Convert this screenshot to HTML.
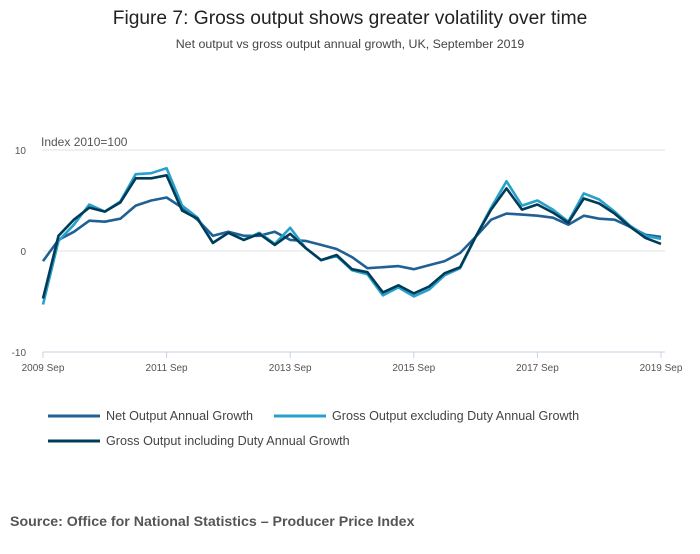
<!DOCTYPE html>
<html><head><meta charset="utf-8">
<style>
body{margin:0;background:#fff;font-family:"Liberation Sans",sans-serif;}
svg text{font-family:"Liberation Sans",sans-serif;}
</style></head>
<body>
<svg width="700" height="549" viewBox="0 0 700 549">
<text x="350" y="24" text-anchor="middle" font-size="19.2" fill="#222">Figure 7: Gross output shows greater volatility over time</text>
<text x="350" y="48" text-anchor="middle" font-size="12.4" fill="#444">Net output vs gross output annual growth, UK, September 2019</text>
<text x="41" y="146" font-size="12" fill="#555">Index 2010=100</text>
<g id="grid"></g>
<g id="series"></g>
<g id="legend"></g>
<text x="10" y="526" font-size="14.2" font-weight="bold" fill="#555">Source: Office for National Statistics – Producer Price Index</text>
</svg>
<script>
const xLabels=["2009 Sep","2011 Sep","2013 Sep","2015 Sep","2017 Sep","2019 Sep"];
const yTicks=[10,0,-10];
const seriesNames=["Net Output Annual Growth","Gross Output excluding Duty Annual Growth","Gross Output including Duty Annual Growth"];
const netOutput=[-1.0,1.1,1.9,3.0,2.9,3.2,4.5,5.0,5.3,4.3,3.1,1.5,1.9,1.5,1.5,1.9,1.1,1.0,0.6,0.2,-0.6,-1.7,-1.6,-1.5,-1.8,-1.4,-1.0,-0.2,1.4,3.1,3.7,3.6,3.5,3.3,2.6,3.5,3.2,3.1,2.4,1.6,1.4];
const grossExcl=[-5.3,1.0,2.6,4.6,3.9,4.9,7.6,7.7,8.2,4.5,3.3,0.8,1.8,1.1,1.8,0.7,2.3,0.3,-0.9,-0.5,-1.9,-2.3,-4.4,-3.6,-4.5,-3.8,-2.4,-1.7,1.4,4.3,6.9,4.5,5.0,4.1,2.9,5.7,5.1,3.9,2.5,1.5,1.2];
const grossIncl=[-4.7,1.5,3.1,4.3,3.9,4.8,7.2,7.2,7.5,4.0,3.2,0.8,1.8,1.1,1.7,0.6,1.7,0.3,-0.9,-0.4,-1.8,-2.1,-4.1,-3.4,-4.2,-3.5,-2.2,-1.6,1.4,4.1,6.2,4.1,4.6,3.8,2.8,5.2,4.7,3.7,2.4,1.3,0.7];
const colors=["#206095","#27a0cc","#003c57"];
const NS="http://www.w3.org/2000/svg";
const x0=43,x1=661,y0=251;
function xs(i,n){return x0+(x1-x0)*i/(n-1);}
function ys(v){return y0-v*10.1;}
const grid=document.getElementById('grid');
yTicks.forEach(t=>{
 const l=document.createElementNS(NS,'line');
 l.setAttribute('x1',x0);l.setAttribute('x2',665);l.setAttribute('y1',ys(t));l.setAttribute('y2',ys(t));
 l.setAttribute('stroke',t===-10?'#c7d3e6':'#e0e0e0');l.setAttribute('stroke-width',1);
 
 
 grid.appendChild(l);
 const tx=document.createElementNS(NS,'text');
 tx.setAttribute('x',26);tx.setAttribute('y',ys(t)+4);tx.setAttribute('text-anchor','end');
 tx.setAttribute('font-size','10');tx.setAttribute('fill','#555');tx.textContent=t;
 
 
 grid.appendChild(tx);
});
xLabels.forEach((s,i)=>{
 const x=xs(i,xLabels.length);
 const l=document.createElementNS(NS,'line');
 l.setAttribute('x1',x);l.setAttribute('x2',x);l.setAttribute('y1',352);l.setAttribute('y2',358);
 l.setAttribute('stroke','#c7d3e6');
 
 
 grid.appendChild(l);
 const tx=document.createElementNS(NS,'text');
 tx.setAttribute('x',x);tx.setAttribute('y',371);tx.setAttribute('text-anchor','middle');
 tx.setAttribute('font-size','10');tx.setAttribute('fill','#555');tx.textContent=s;
 
 
 grid.appendChild(tx);
});
const sg=document.getElementById('series');
[netOutput,grossExcl,grossIncl].forEach((arr,k)=>{
 const p=document.createElementNS(NS,'polyline');
 p.setAttribute('points',arr.map((v,i)=>xs(i,arr.length).toFixed(1)+','+ys(v).toFixed(1)).join(' '));
 p.setAttribute('fill','none');p.setAttribute('stroke',colors[k]);p.setAttribute('stroke-width',2.6);
 p.setAttribute('stroke-linejoin','round');
 
 
 sg.appendChild(p);
});
const lg=document.getElementById('legend');
const lpos=[[48,416],[274,416],[48,441]];
seriesNames.forEach((n,k)=>{
 const g=document.createElementNS(NS,'g');
 
 
 const l=document.createElementNS(NS,'line');
 l.setAttribute('x1',lpos[k][0]);l.setAttribute('x2',lpos[k][0]+52);l.setAttribute('y1',lpos[k][1]);l.setAttribute('y2',lpos[k][1]);
 l.setAttribute('stroke',colors[k]);l.setAttribute('stroke-width',3);
 g.appendChild(l);
 const t=document.createElementNS(NS,'text');
 t.setAttribute('x',lpos[k][0]+58);t.setAttribute('y',lpos[k][1]+4);t.setAttribute('font-size','12.6');t.setAttribute('fill','#444');
 t.textContent=n;
 g.appendChild(t);
 lg.appendChild(g);
});
</script>
</body></html>
